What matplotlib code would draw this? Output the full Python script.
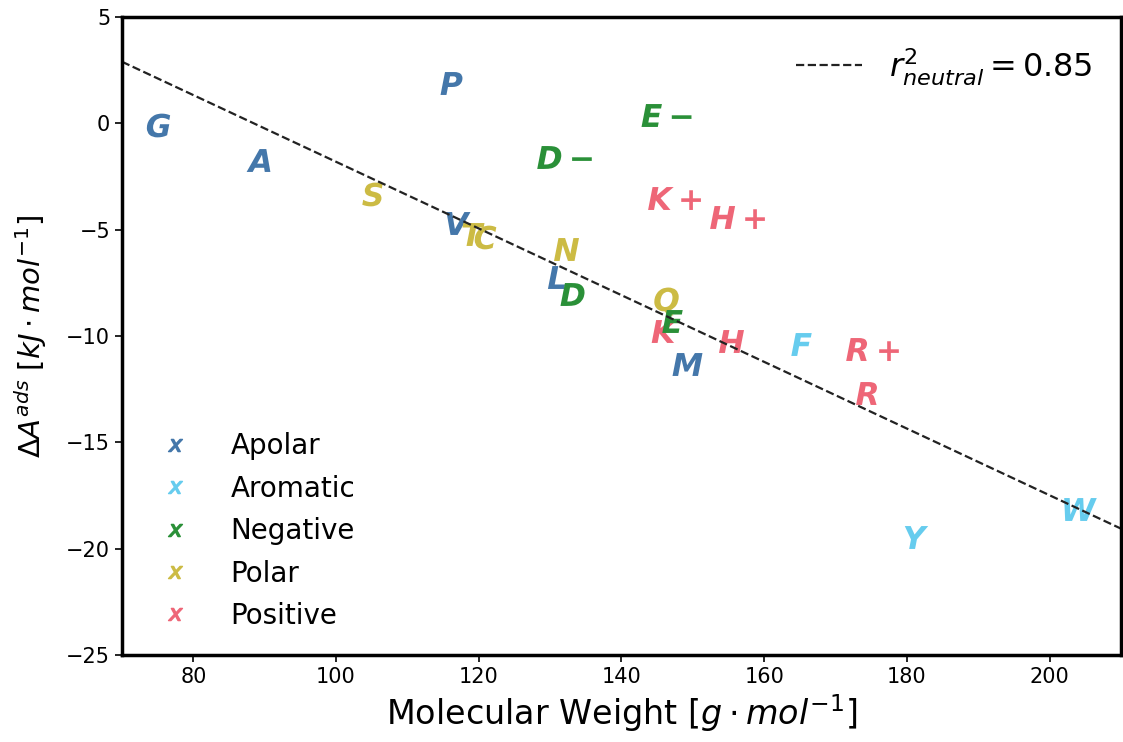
import numpy as np
import matplotlib
matplotlib.use("Agg")
import matplotlib.pyplot as plt
from matplotlib.lines import Line2D
from matplotlib.textpath import TextPath

# letters drawn in bold italic sans
plt.rcParams['mathtext.fontset'] = 'custom'
plt.rcParams['mathtext.rm'] = 'DejaVu Sans'
plt.rcParams['mathtext.it'] = 'DejaVu Sans:italic'
plt.rcParams['mathtext.bf'] = 'DejaVu Sans:bold:italic'

# amino acids
names = ['G', 'A', 'P', 'S', 'V', 'T', 'C', 'L', 'N', 'D', 'Q', 'K', 'E', 'M',
         'H', 'F', 'R', 'Y', 'W', 'D-', 'E-', 'K+', 'H+', 'R+']
groups = ['Apolar', 'Apolar', 'Apolar', 'Polar', 'Apolar', 'Polar', 'Polar', 'Apolar',
          'Polar', 'Negative', 'Polar', 'Positive', 'Negative', 'Apolar',
          'Positive', 'Aromatic', 'Positive', 'Aromatic', 'Aromatic',
          'Negative', 'Negative', 'Positive', 'Positive', 'Positive']
mol_weight = [75.1, 89.1, 116.1, 105.0, 117.1, 119.2, 120.9, 130.8, 132.2, 133.1,
              146.2, 146.0, 147.1, 149.2, 155.3, 165.2, 174.3, 181.3, 204.2,
              132.0, 146.2, 147.3, 156.2, 175.1]
dA_ads = [-0.06, -1.70, 1.91, -3.30, -4.66, -5.22, -5.36, -7.24, -5.92, -8.03,
          -8.36, -9.77, -9.30, -11.32, -10.24, -10.38, -12.67, -19.43, -18.11,
          -1.56, 0.41, -3.49, -4.38, -10.61]

# neutral fit line end points
fit_x = [70, 210]
fit_y = [2.9, -19.05]
r2_neutral = 0.85

group_names = ['Apolar', 'Aromatic', 'Negative', 'Polar', 'Positive']
group_colors = {'Apolar': '#4477AA', 'Aromatic': '#66CCEE', 'Negative': '#2A9038',
                'Polar': '#CCBB44', 'Positive': '#EE6677'}

fig = plt.figure(figsize=(11.23, 7.42), dpi=100)
ax = fig.add_axes([0.1086, 0.117, 0.8896, 0.860])

# reference letter height, so every marker has the same letter size
ref = TextPath((0, 0), r'$\mathbf{H}$').get_extents()
letter_pt = 16.5

for name, grp, x, y in zip(names, groups, mol_weight, dA_ads):
    m = r'$\mathbf{' + name + '}$'
    ext = TextPath((0, 0), m).get_extents()
    size = letter_pt * max(ext.width, ext.height) / ref.height
    ax.scatter(x, y, marker=m, s=size ** 2, color=group_colors[grp], linewidths=0)

line, = ax.plot(fit_x, fit_y, '--', color='#222222', lw=1.6)

handles = [Line2D([0], [0], marker='$x$', color=group_colors[g], linestyle='none',
                  markersize=10, label=g) for g in group_names]
leg1 = ax.legend(handles=handles, loc='lower left', frameon=False, fontsize=20,
                 labelspacing=0.52, handletextpad=1.0)
ax.add_artist(leg1)
ax.legend([line], [r'$r^2_{neutral} = %.2f$' % r2_neutral], loc='upper right',
          frameon=False, fontsize=23, handlelength=2.05, handletextpad=0.85)

ax.set_xlim(70, 210)
ax.set_ylim(-25, 5)
ax.set_xticks([80, 100, 120, 140, 160, 180, 200])
ax.set_yticks([-25, -20, -15, -10, -5, 0, 5])
ax.tick_params(labelsize=15, width=1.2, length=5)
for sp in ax.spines.values():
    sp.set_linewidth(2.5)

ax.set_xlabel(r'Molecular Weight $[g \cdot mol^{-1}]$', fontsize=24)
ax.set_ylabel(r'$\Delta A^{ads}$ $[kJ \cdot mol^{-1}]$', fontsize=21, labelpad=12)

fig.savefig('out.png', dpi=100)
